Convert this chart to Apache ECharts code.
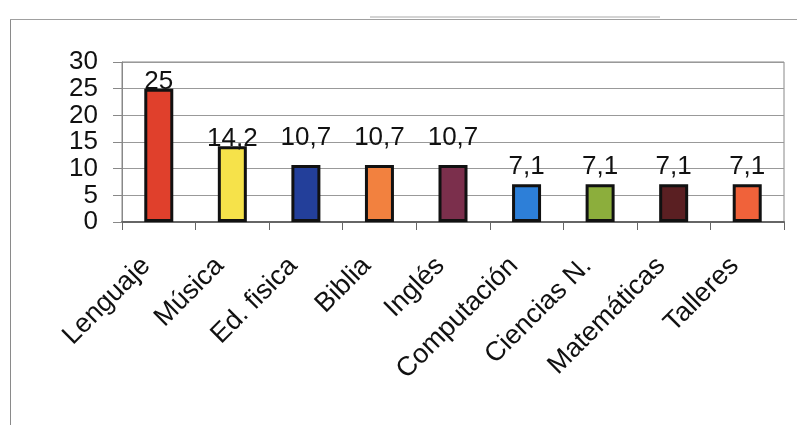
<!DOCTYPE html>
<html>
<head>
<meta charset="utf-8">
<script src="https://cdn.jsdelivr.net/npm/echarts@6/dist/echarts.min.js"></script>
<style>
  html, body { margin: 0; padding: 0; background: #fff; }
  #frameL { position: absolute; left: 10px; top: 19px; width: 1px; height: 406px; background: #8a8a8a; }
  #frameT { position: absolute; left: 10px; top: 19px; width: 787px; height: 1px; background: #a0a0a0; }
  #smudge { position: absolute; left: 370px; top: 16px; width: 290px; height: 2px; background: #d4d4d4; }
  #main { position: absolute; left: 0; top: 0; width: 797px; height: 425px; }
</style>
</head>
<body>
<div id="frameL"></div>
<div id="frameT"></div>
<div id="smudge"></div>
<div id="main"></div>
<script>
// asignaturas y porcentajes
var categories = ['Lenguaje', 'Música', 'Ed. fisica', 'Biblia', 'Inglés', 'Computación', 'Ciencias N.', 'Matemáticas', 'Talleres'];
var values = [25, 14.2, 10.7, 10.7, 10.7, 7.1, 7.1, 7.1, 7.1];
var yTicks = [0, 5, 10, 15, 20, 25, 30];

// estilo (colores y separacion de las etiquetas)
var barColors = ['#e0402c', '#f6e24a', '#233f9a', '#f2813f', '#7b2f4c', '#2d7fd8', '#8cae3c', '#5a1f22', '#f0623a'];
var labelLift = [-6, -6, 14, 14, 14, 4, 4, 4, 4];

var myChart = echarts.init(document.getElementById('main'));

var data = [];
for (var i = 0; i < values.length; i++) {
  data.push({
    value: values[i],
    itemStyle: { color: barColors[i] },
    label: { distance: labelLift[i] }
  });
}

var option = {
  animation: false,
  grid: { left: 122, right: 13, top: 62, bottom: 203, show: true, borderColor: '#888', borderWidth: 1 },
  xAxis: {
    type: 'category',
    data: categories,
    axisLine: { lineStyle: { color: '#666', width: 2 } },
    axisTick: { show: true, length: 8, lineStyle: { color: '#666' } },
    axisLabel: {
      rotate: 45,
      interval: 0,
      margin: 27,
      padding: [0, 18, 0, 0],
      color: '#111',
      fontFamily: 'Liberation Sans',
      fontSize: 27
    }
  },
  yAxis: {
    type: 'value',
    min: yTicks[0],
    max: yTicks[yTicks.length - 1],
    interval: 5,
    axisLine: { show: true, lineStyle: { color: '#888' } },
    axisTick: { show: true, length: 9, lineStyle: { color: '#888' } },
    splitLine: { lineStyle: { color: '#999' } },
    axisLabel: {
      color: '#111',
      fontFamily: 'Liberation Sans',
      fontSize: 26,
      lineHeight: 22,
      margin: 24
    }
  },
  series: [{
    type: 'bar',
    data: data,
    barWidth: 29,
    itemStyle: { borderColor: '#111', borderWidth: 3 },
    label: {
      show: true,
      position: 'top',
      color: '#111',
      fontFamily: 'Liberation Sans',
      fontSize: 26,
      formatter: function (p) { return String(p.value).replace('.', ','); }
    }
  }]
};
myChart.setOption(option);
</script>
</body>
</html>
